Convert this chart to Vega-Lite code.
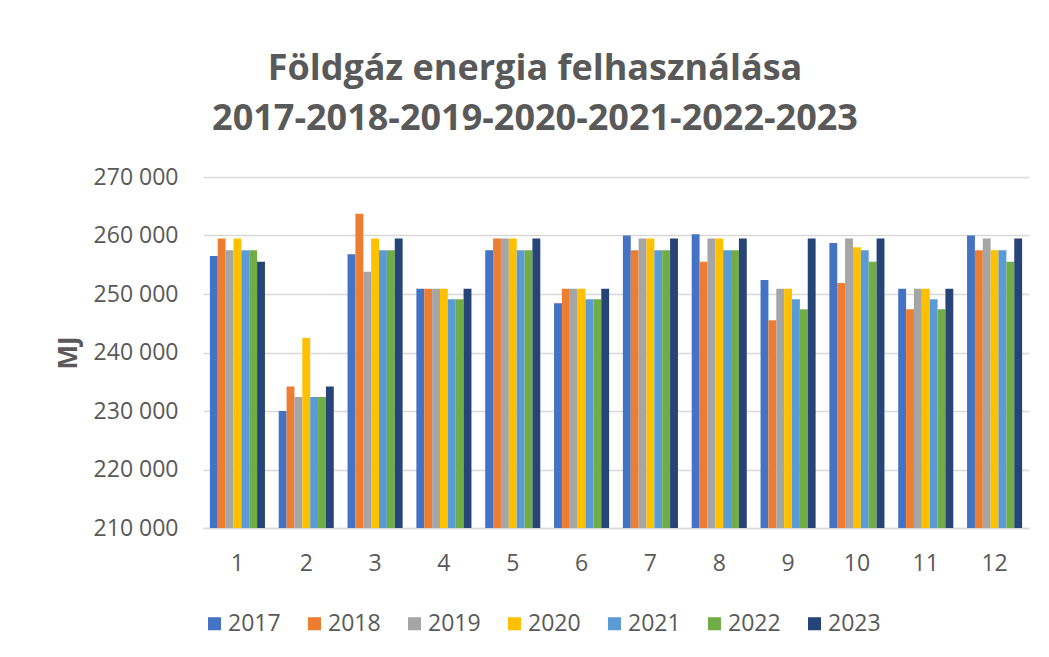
{
  "$schema": "https://vega.github.io/schema/vega-lite/v6.json",
  "autosize": {"type": "none"},
  "padding": {"left": 203, "top": 177, "right": 20, "bottom": 129},
  "width": 826,
  "height": 351,
  "background": "white",
  "title": {
    "text": ["Földgáz energia felhasználása", "2017-2018-2019-2020-2021-2022-2023"],
    "anchor": "middle",
    "frame": "group",
    "dx": -81,
    "offset": 28,
    "font": "Open Sans",
    "fontSize": 36,
    "fontWeight": "bold",
    "color": "#595959",
    "lineHeight": 50
  },
  "data": {
    "values": [
      {"m": 1, "y": "2017", "v": 256500}, {"m": 1, "y": "2018", "v": 259500}, {"m": 1, "y": "2019", "v": 257500}, {"m": 1, "y": "2020", "v": 259500}, {"m": 1, "y": "2021", "v": 257500}, {"m": 1, "y": "2022", "v": 257500}, {"m": 1, "y": "2023", "v": 255500},
      {"m": 2, "y": "2017", "v": 230000}, {"m": 2, "y": "2018", "v": 234200}, {"m": 2, "y": "2019", "v": 232400}, {"m": 2, "y": "2020", "v": 242500}, {"m": 2, "y": "2021", "v": 232400}, {"m": 2, "y": "2022", "v": 232400}, {"m": 2, "y": "2023", "v": 234200},
      {"m": 3, "y": "2017", "v": 256800}, {"m": 3, "y": "2018", "v": 263700}, {"m": 3, "y": "2019", "v": 253800}, {"m": 3, "y": "2020", "v": 259500}, {"m": 3, "y": "2021", "v": 257500}, {"m": 3, "y": "2022", "v": 257500}, {"m": 3, "y": "2023", "v": 259500},
      {"m": 4, "y": "2017", "v": 250900}, {"m": 4, "y": "2018", "v": 250900}, {"m": 4, "y": "2019", "v": 250900}, {"m": 4, "y": "2020", "v": 250900}, {"m": 4, "y": "2021", "v": 249100}, {"m": 4, "y": "2022", "v": 249100}, {"m": 4, "y": "2023", "v": 250900},
      {"m": 5, "y": "2017", "v": 257500}, {"m": 5, "y": "2018", "v": 259500}, {"m": 5, "y": "2019", "v": 259500}, {"m": 5, "y": "2020", "v": 259500}, {"m": 5, "y": "2021", "v": 257500}, {"m": 5, "y": "2022", "v": 257500}, {"m": 5, "y": "2023", "v": 259500},
      {"m": 6, "y": "2017", "v": 248400}, {"m": 6, "y": "2018", "v": 250900}, {"m": 6, "y": "2019", "v": 250900}, {"m": 6, "y": "2020", "v": 250900}, {"m": 6, "y": "2021", "v": 249100}, {"m": 6, "y": "2022", "v": 249100}, {"m": 6, "y": "2023", "v": 250900},
      {"m": 7, "y": "2017", "v": 260000}, {"m": 7, "y": "2018", "v": 257500}, {"m": 7, "y": "2019", "v": 259500}, {"m": 7, "y": "2020", "v": 259500}, {"m": 7, "y": "2021", "v": 257500}, {"m": 7, "y": "2022", "v": 257500}, {"m": 7, "y": "2023", "v": 259500},
      {"m": 8, "y": "2017", "v": 260200}, {"m": 8, "y": "2018", "v": 255500}, {"m": 8, "y": "2019", "v": 259500}, {"m": 8, "y": "2020", "v": 259500}, {"m": 8, "y": "2021", "v": 257500}, {"m": 8, "y": "2022", "v": 257500}, {"m": 8, "y": "2023", "v": 259500},
      {"m": 9, "y": "2017", "v": 252400}, {"m": 9, "y": "2018", "v": 245500}, {"m": 9, "y": "2019", "v": 250900}, {"m": 9, "y": "2020", "v": 250900}, {"m": 9, "y": "2021", "v": 249100}, {"m": 9, "y": "2022", "v": 247400}, {"m": 9, "y": "2023", "v": 259500},
      {"m": 10, "y": "2017", "v": 258700}, {"m": 10, "y": "2018", "v": 251900}, {"m": 10, "y": "2019", "v": 259500}, {"m": 10, "y": "2020", "v": 258000}, {"m": 10, "y": "2021", "v": 257500}, {"m": 10, "y": "2022", "v": 255500}, {"m": 10, "y": "2023", "v": 259500},
      {"m": 11, "y": "2017", "v": 250900}, {"m": 11, "y": "2018", "v": 247400}, {"m": 11, "y": "2019", "v": 250900}, {"m": 11, "y": "2020", "v": 250900}, {"m": 11, "y": "2021", "v": 249100}, {"m": 11, "y": "2022", "v": 247400}, {"m": 11, "y": "2023", "v": 250900},
      {"m": 12, "y": "2017", "v": 260000}, {"m": 12, "y": "2018", "v": 257500}, {"m": 12, "y": "2019", "v": 259500}, {"m": 12, "y": "2020", "v": 257500}, {"m": 12, "y": "2021", "v": 257500}, {"m": 12, "y": "2022", "v": 255500}, {"m": 12, "y": "2023", "v": 259500}
    ]
  },
  "mark": {"type": "bar", "clip": true, "strokeWidth": 0},
  "encoding": {
    "x": {
      "field": "m",
      "type": "ordinal",
      "scale": {"paddingInner": 0.2, "paddingOuter": 0.1},
      "axis": {
        "title": null,
        "labelAngle": 0,
        "ticks": false,
        "domainColor": "#d9d9d9",
        "domainWidth": 1.5,
        "labelFont": "Open Sans",
        "labelFontSize": 23,
        "labelColor": "#595959",
        "labelPadding": 24
      }
    },
    "xOffset": {"field": "y", "type": "nominal", "scale": {"paddingInner": 0, "paddingOuter": 0}},
    "y": {
      "field": "v",
      "type": "quantitative",
      "scale": {"domain": [210000, 270000], "zero": false, "nice": false},
      "axis": {
        "title": "MJ",
        "titleFont": "Open Sans",
        "titleFontSize": 26,
        "titleFontWeight": "bold",
        "titleColor": "#595959",
        "titlePadding": 12,
        "values": [210000, 220000, 230000, 240000, 250000, 260000, 270000],
        "labelExpr": "replace(format(datum.value, ',d'), ',', ' ')",
        "labelFont": "Open Sans",
        "labelFontSize": 23,
        "labelColor": "#595959",
        "labelPadding": 25,
        "ticks": false,
        "domain": false,
        "grid": true,
        "gridColor": "#d9d9d9",
        "gridWidth": 1.5
      }
    },
    "color": {
      "field": "y",
      "type": "nominal",
      "scale": {
        "domain": ["2017", "2018", "2019", "2020", "2021", "2022", "2023"],
        "range": ["#4472C4", "#ED7D31", "#A5A5A5", "#FFC000", "#5B9BD5", "#70AD47", "#264478"]
      },
      "legend": {
        "title": null,
        "orient": "none",
        "direction": "horizontal",
        "legendX": 0,
        "legendY": 435,
        "symbolType": "square",
        "symbolSize": 170,
        "symbolStrokeWidth": 0,
        "labelFont": "Open Sans",
        "labelFontSize": 23,
        "labelColor": "#595959",
        "labelOffset": 2,
        "columnPadding": 22
      }
    }
  },
  "config": {"view": {"stroke": null}}
}
